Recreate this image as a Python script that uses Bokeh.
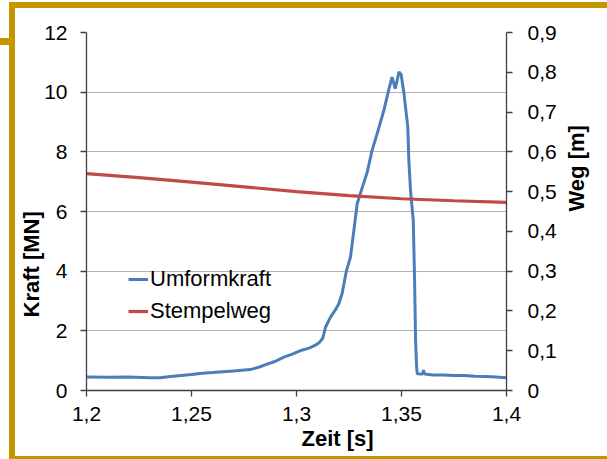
import math
from bokeh.plotting import figure
from bokeh.layouts import column, row
from bokeh.models import Range1d, LinearAxis, FixedTicker, Legend, LegendItem, Title, Div
from bokeh.embed import file_html
from bokeh.resources import INLINE

# ---------------- data ----------------
zeit_kraft = [1.200, 1.210, 1.220, 1.230, 1.235, 1.240, 1.250, 1.255, 1.260, 1.270,
              1.278, 1.282, 1.285, 1.290, 1.294, 1.298, 1.302, 1.306, 1.309, 1.311,
              1.3125, 1.3138, 1.3162, 1.3185, 1.3201, 1.3217, 1.3238, 1.3257, 1.3273, 1.3289,
              1.3313, 1.3336, 1.3360, 1.3390, 1.3416, 1.3440, 1.3455, 1.3463, 1.3470, 1.3478,
              1.3488, 1.3498, 1.3511, 1.3530, 1.3535, 1.3543, 1.3556, 1.3562, 1.3567, 1.3572,
              1.3575, 1.3590, 1.3600, 1.3605, 1.3610, 1.3650, 1.3700, 1.3750, 1.3800, 1.3850,
              1.3900, 1.3950, 1.4000]
kraft = [0.45, 0.44, 0.45, 0.43, 0.43, 0.47, 0.54, 0.58, 0.60, 0.65,
         0.70, 0.78, 0.86, 0.98, 1.12, 1.22, 1.34, 1.42, 1.52, 1.62,
         1.75, 2.12, 2.46, 2.70, 2.90, 3.24, 4.02, 4.47, 5.36, 6.26,
         6.80, 7.30, 8.05, 8.75, 9.39, 10.10, 10.50, 10.30, 10.12, 10.35,
         10.68, 10.60, 10.00, 8.83, 7.71, 6.70, 5.70, 3.80, 1.68, 0.80,
         0.56, 0.55, 0.55, 0.68, 0.55, 0.52, 0.52, 0.50, 0.50, 0.48,
         0.47, 0.45, 0.43]

zeit_weg = [1.200, 1.225, 1.250, 1.275, 1.300, 1.325, 1.350, 1.375, 1.400]
weg = [0.545, 0.535, 0.524, 0.512, 0.500, 0.490, 0.482, 0.477, 0.473]

x_ticks = [1.2, 1.25, 1.3, 1.35, 1.4]
x_tick_labels = ["1,2", "1,25", "1,3", "1,35", "1,4"]
kraft_ticks = [0, 2, 4, 6, 8, 10, 12]
kraft_tick_labels = ["0", "2", "4", "6", "8", "10", "12"]
weg_ticks = [0, 0.1, 0.2, 0.3, 0.4, 0.5, 0.6, 0.7, 0.8, 0.9]
weg_tick_labels = ["0", "0,1", "0,2", "0,3", "0,4", "0,5", "0,6", "0,7", "0,8", "0,9"]

series_names = ["Umformkraft", "Stempelweg"]
x_title = "Zeit [s]"
y_title = "Kraft [MN]"
y2_title = "Weg [m]"

# ---------------- layout ----------------
PAGE_W, PAGE_H = 607, 459
GAP_L, BAR_L = 9, 6          # gold left bar position / thickness
GAP_T, BAR_T = 2, 6          # gold top bar position / thickness
BAR_B = 3                    # gold bottom bar thickness
OFF_X, OFF_Y = GAP_L + BAR_L, GAP_T + BAR_T
W, H = PAGE_W - OFF_X, PAGE_H - OFF_Y - BAR_B
FL, FR, FT, FB = 86 - OFF_X, 506 - OFF_X, 32 - OFF_Y, 390 - OFF_Y
FONT = "Liberation Sans"
BLUE = "#4A7EBB"
RED = "#BE4B48"
GOLD = "#C49600"
AXIS = "#404040"

p = figure(width=W, height=H, output_backend="svg", toolbar_location=None,
           x_range=Range1d(1.2, 1.4), y_range=Range1d(0, 12),
           min_border_left=FL, min_border_right=W - FR,
           min_border_top=FT, min_border_bottom=H - FB, margin=0)
p.extra_y_ranges = {"weg": Range1d(0, 0.9)}
p.outline_line_color = None
p.background_fill_color = "white"
p.border_fill_color = "white"

p.xgrid.visible = False
p.ygrid.grid_line_color = "#B3B3B3"
p.ygrid.grid_line_width = 1

right = LinearAxis(y_range_name="weg")
p.add_layout(right, "right")

p.xaxis.ticker = FixedTicker(ticks=x_ticks)
p.xaxis.major_label_overrides = dict(zip(x_ticks, x_tick_labels))
p.yaxis[0].ticker = FixedTicker(ticks=kraft_ticks)
p.yaxis[0].major_label_overrides = dict(zip(kraft_ticks, kraft_tick_labels))
right.ticker = FixedTicker(ticks=weg_ticks)
right.major_label_overrides = dict(zip(weg_ticks, weg_tick_labels))

for ax in [p.xaxis[0], p.yaxis[0], right]:
    ax.axis_line_color = AXIS
    ax.axis_line_width = 1.3
    ax.major_tick_line_color = AXIS
    ax.major_tick_line_width = 1.3
    ax.major_tick_out = 6
    ax.major_tick_in = 0
    ax.minor_tick_line_color = None
    ax.major_label_text_font = FONT
    ax.major_label_text_font_size = "21px"
    ax.major_label_text_color = "black"
p.xaxis[0].major_label_standoff = 10
p.yaxis[0].major_label_standoff = 13
right.major_label_standoff = 15

right.axis_label = y2_title
right.axis_label_orientation = math.pi / 2
right.axis_label_standoff = 17
right.axis_label_text_font = FONT
right.axis_label_text_font_size = "22px"
right.axis_label_text_font_style = "bold"
right.axis_label_text_color = "black"

r1 = p.line(zeit_kraft, kraft, line_color=BLUE, line_width=3)
r2 = p.line(zeit_weg, weg, line_color=RED, line_width=3.2, y_range_name="weg")

legend = Legend(items=[LegendItem(label=series_names[0], renderers=[r1]),
                       LegendItem(label=series_names[1], renderers=[r2])],
                location=(42, 66), padding=0, margin=0, spacing=6,
                glyph_width=20, glyph_height=20, label_standoff=2,
                background_fill_alpha=0, border_line_alpha=0,
                label_text_font=FONT, label_text_font_size="22px",
                label_text_color="black")
p.add_layout(legend)

title_style = dict(text_font=FONT, text_font_size="22px", text_font_style="bold",
                   text_color="black", align="left")
p.add_layout(Title(text=y_title, offset=73, standoff=-4, **title_style), "left")
p.add_layout(Title(text=x_title, offset=215, standoff=0, **title_style), "below")


# ---------------- gold frame around the chart ----------------
def bar(w, h, color):
    return Div(text="", width=w, height=h, margin=0,
               styles={"background-color": color})


inner_h = PAGE_H - GAP_T
stub_col = column(bar(GAP_L, 36, "white"), bar(GAP_L, 7, GOLD), bar(GAP_L, inner_h - 43, "white"),
                  spacing=0, margin=0)
chart_col = column(bar(W, BAR_T, GOLD), p, bar(W, BAR_B, GOLD), spacing=0, margin=0)
page = column(bar(PAGE_W, GAP_T, "white"),
              row(stub_col, bar(BAR_L, inner_h, GOLD), chart_col, spacing=0, margin=0),
              spacing=0, margin=0)

open("out.html", "w").write(file_html(page, INLINE))
